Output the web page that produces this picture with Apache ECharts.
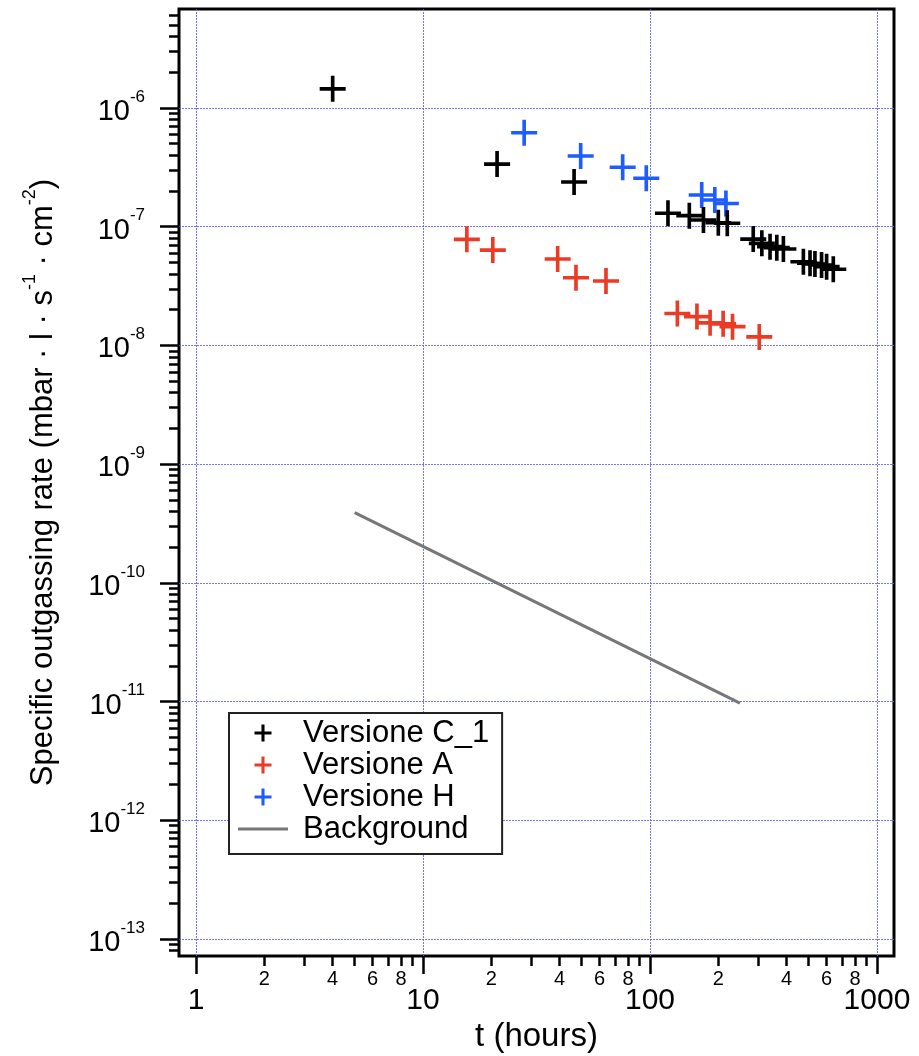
<!DOCTYPE html>
<html>
<head>
<meta charset="utf-8">
<script src="https://cdn.jsdelivr.net/npm/echarts@6/dist/echarts.min.js"></script>
<style>
html,body{margin:0;padding:0;background:#fff;}
#chart{width:919px;height:1056px;}
</style>
</head>
<body>
<div id="chart"></div>
<script>
// ---- data ----
const c1Hours = [4, 21.2, 46.3, 120, 149, 172, 200, 219, 285, 311, 338, 362, 387, 474, 507, 533, 570, 600, 642];
const c1Rates = [1.45e-6, 3.37e-7, 2.38e-7, 1.30e-7, 1.24e-7, 1.14e-7, 1.08e-7, 1.07e-7, 7.87e-8, 7.25e-8, 6.79e-8, 6.66e-8, 6.49e-8, 5.07e-8, 4.92e-8, 4.85e-8, 4.76e-8, 4.61e-8, 4.38e-8];
const aHours = [15.6, 20.3, 39.2, 47.2, 64, 132, 161, 184, 210, 231, 303];
const aRates = [7.83e-8, 6.36e-8, 5.35e-8, 3.72e-8, 3.49e-8, 1.86e-8, 1.75e-8, 1.55e-8, 1.52e-8, 1.44e-8, 1.18e-8];
const hHours = [27.9, 49.5, 75.8, 96.3, 169, 193, 216];
const hRates = [6.19e-7, 3.94e-7, 3.17e-7, 2.56e-7, 1.85e-7, 1.68e-7, 1.57e-7];
const bgHours = [5, 249];
const bgRates = [3.9e-10, 9.7e-12];

const seriesNames = ['Versione C_1', 'Versione A', 'Versione H', 'Background'];

// ---- tick lists ----
const xMajorTicks = [1, 10, 100, 1000];
const xMinorMantissas = [2, 3, 4, 5, 6, 7, 8, 9];
const xMinorLabelMantissas = [2, 4, 6, 8];
const xDecades = [1, 10, 100];
const yMajorTicks = [1e-13, 1e-12, 1e-11, 1e-10, 1e-9, 1e-8, 1e-7, 1e-6];
const yDecades = [1e-14, 1e-13, 1e-12, 1e-11, 1e-10, 1e-9, 1e-8, 1e-7, 1e-6, 1e-5];

const xMinorTicks = [];
const xMinorLabels = [];
xDecades.forEach(d => {
  xMinorMantissas.forEach(m => xMinorTicks.push(+(m * d).toPrecision(6)));
  xMinorLabelMantissas.forEach(m => xMinorLabels.push(+(m * d).toPrecision(6)));
});
const yMinorTicks = [];
yDecades.forEach(d => xMinorMantissas.forEach(m => yMinorTicks.push(+(m * d).toPrecision(6))));

const zip = (xs, ys) => xs.map((x, i) => [x, ys[i]]);

// frame extents (slightly beyond the decades)
const xMin = Math.pow(10, -0.075), xMax = Math.pow(10, 3.075);
const yMin = Math.pow(10, -13.143), yMax = Math.pow(10, -5.166);

const plusPath = 'path://M43,0 H57 V43 H100 V57 H57 V100 H43 V57 H0 V43 H43 Z';
const plusIcon = 'path://M41,0 H59 V41 H100 V59 H59 V100 H41 V59 H0 V41 H41 Z';
const lineIcon = 'path://M0,0 H100 V6 H0 Z';
const FONT = '"Liberation Sans", Arial, Helvetica, sans-serif';
const gridLine = { show: true, lineStyle: { color: '#5a5aff', width: 1, type: [2, 1], opacity: 0.85 } };

const chart = echarts.init(document.getElementById('chart'), null, { renderer: 'canvas' });
chart.setOption({
  backgroundColor: '#fff',
  animation: false,
  textStyle: { fontFamily: FONT },
  grid: {
    left: 179, top: 9, right: 25, bottom: 100,
    show: true, borderColor: '#000', borderWidth: 3,
    containLabel: false, outerBoundsMode: 'none'
  },
  legend: {
    orient: 'vertical',
    left: 229, top: 713,
    padding: [4, 13, 9, 9],
    itemGap: 0,
    itemWidth: 50, itemHeight: 17,
    borderColor: '#222', borderWidth: 2,
    backgroundColor: '#fff',
    symbolKeepAspect: true,
    textStyle: { fontFamily: FONT, fontSize: 31, color: '#000', lineHeight: 32, padding: [0, 0, 0, 10] },
    data: [
      { name: seriesNames[0], icon: plusIcon },
      { name: seriesNames[1], icon: plusIcon },
      { name: seriesNames[2], icon: plusIcon },
      { name: seriesNames[3], icon: lineIcon }
    ]
  },
  xAxis: [
    {
      type: 'log', min: xMin, max: xMax, position: 'bottom',
      name: 't (hours)', nameLocation: 'middle', nameGap: 55,
      nameTextStyle: { fontFamily: FONT, fontSize: 33, color: '#000' },
      axisLine: { show: false },
      axisTick: { show: true, customValues: xMajorTicks, length: 18, inside: false, lineStyle: { color: '#000', width: 2.5 } },
      axisLabel: { customValues: xMajorTicks, margin: 30, fontSize: 30, color: '#000', fontFamily: FONT,
        formatter: v => String(Math.round(v)) },
      splitLine: gridLine,
      minorTick: { show: false }
    },
    {
      type: 'log', min: xMin, max: xMax, position: 'bottom',
      axisLine: { show: false },
      axisTick: { show: true, customValues: xMinorTicks, length: 10, lineStyle: { color: '#000', width: 2.5 } },
      axisLabel: { customValues: xMinorLabels, margin: 13, fontSize: 20, color: '#000', fontFamily: FONT,
        formatter: v => String(Math.round(v / Math.pow(10, Math.floor(Math.log10(v) + 1e-9)))) },
      splitLine: { show: false }
    }
  ],
  yAxis: [
    {
      type: 'log', min: yMin, max: yMax, position: 'left',
      name: 'Specific outgassing rate (mbar · l · s{s|-1} · cm{s|-2})',
      nameLocation: 'middle', nameGap: 114,
      nameTextStyle: { fontFamily: FONT, fontSize: 31, color: '#000', lineHeight: 44,
        rich: { s: { fontFamily: FONT, fontSize: 18, color: '#000', lineHeight: 16, verticalAlign: 'top' } } },
      axisLine: { show: false },
      axisTick: { show: true, customValues: yMajorTicks, length: 19, lineStyle: { color: '#000', width: 2.5 } },
      axisLabel: {
        customValues: yMajorTicks, margin: 34, fontSize: 29, color: '#000', fontFamily: FONT,
        lineHeight: 47, padding: [8, 0, 0, 0],
        formatter: v => '10{s|' + Math.round(Math.log10(v)) + '}',
        rich: { s: { fontFamily: FONT, fontSize: 17, color: '#000', lineHeight: 16, verticalAlign: 'top' } }
      },
      splitLine: gridLine
    },
    {
      type: 'log', min: yMin, max: yMax, position: 'left',
      axisLine: { show: false },
      axisTick: { show: true, customValues: yMinorTicks, length: 10, lineStyle: { color: '#000', width: 2.5 } },
      axisLabel: { show: false },
      splitLine: { show: false }
    }
  ],
  series: [
    { name: seriesNames[0], type: 'scatter', data: zip(c1Hours, c1Rates), symbol: plusPath, symbolSize: 26,
      itemStyle: { color: '#000', opacity: 1 }, xAxisIndex: 0, yAxisIndex: 0, z: 4 },
    { name: seriesNames[1], type: 'scatter', data: zip(aHours, aRates), symbol: plusPath, symbolSize: 26,
      itemStyle: { color: '#ea3b24', opacity: 1 }, xAxisIndex: 0, yAxisIndex: 0, z: 3 },
    { name: seriesNames[2], type: 'scatter', data: zip(hHours, hRates), symbol: plusPath, symbolSize: 26,
      itemStyle: { color: '#1f5cff', opacity: 1 }, xAxisIndex: 0, yAxisIndex: 0, z: 3 },
    { name: seriesNames[3], type: 'line', data: zip(bgHours, bgRates), symbol: 'none', showSymbol: false,
      lineStyle: { color: '#777', width: 3 }, itemStyle: { color: '#777' }, xAxisIndex: 0, yAxisIndex: 0, z: 2 }
  ]
});
</script>
</body>
</html>
